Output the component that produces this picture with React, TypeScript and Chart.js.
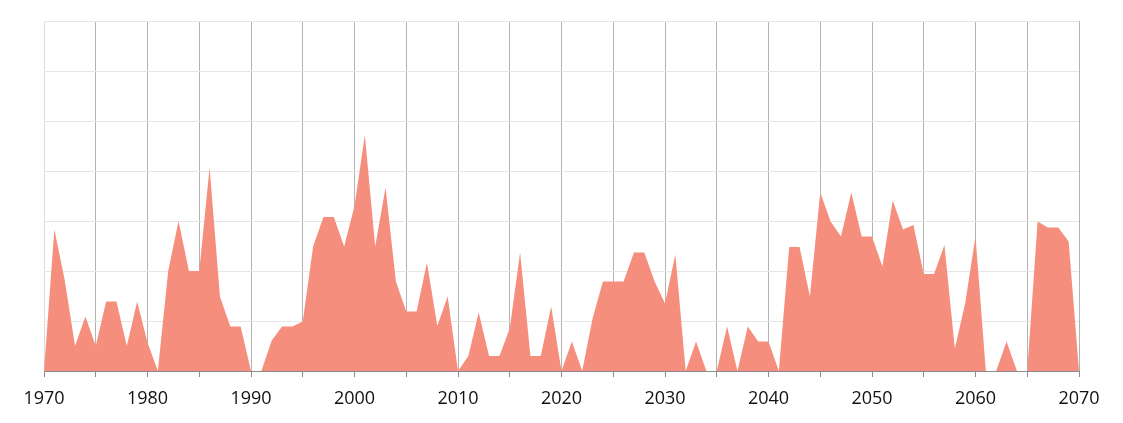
import React, { useEffect, useRef } from "react";
import { Chart, registerables } from "chart.js";

Chart.register(...registerables);

const years: number[] = Array.from({ length: 101 }, (_, i) => 1970 + i);

const values: number[] = [
  // 1970-1979
  0, 2.83, 1.82, 0.5, 1.09, 0.5, 1.39, 1.39, 0.5, 1.39,
  // 1980-1989
  0.57, 0, 2.0, 3.0, 2.0, 2.0, 4.07, 1.49, 0.89, 0.89,
  // 1990-1999
  0, 0, 0.61, 0.89, 0.89, 0.99, 2.49, 3.08, 3.08, 2.49,
  // 2000-2009
  3.3, 4.72, 2.49, 3.67, 1.79, 1.19, 1.19, 2.17, 0.9, 1.49,
  // 2010-2019
  0, 0.3, 1.17, 0.3, 0.3, 0.85, 2.37, 0.3, 0.3, 1.29,
  // 2020-2029
  0, 0.59, 0, 1.05, 1.79, 1.79, 1.79, 2.37, 2.37, 1.79,
  // 2030-2039
  1.35, 2.33, 0, 0.59, 0, 0, 0.89, 0, 0.89, 0.59,
  // 2040-2049
  0.59, 0, 2.48, 2.48, 1.49, 3.57, 2.99, 2.69, 3.57, 2.69,
  // 2050-2059
  2.69, 2.09, 3.41, 2.83, 2.92, 1.94, 1.94, 2.52, 0.45, 1.35,
  // 2060-2069
  2.69, 0, 0, 0.59, 0, 0, 2.99, 2.87, 2.87, 2.59,
  // 2070
  0,
];

const xTickLabels: number[] = [1970, 1980, 1990, 2000, 2010, 2020, 2030, 2040, 2050, 2060, 2070];

export default function App() {
  const canvasRef = useRef<HTMLCanvasElement>(null);

  useEffect(() => {
    if (!canvasRef.current) return;
    const chart = new Chart(canvasRef.current, {
      type: "line",
      data: {
        datasets: [
          {
            data: years.map((y, i) => ({ x: y, y: values[i] })),
            backgroundColor: "rgb(246,142,126)",
            borderColor: "rgb(246,142,126)",
            borderWidth: 0,
            pointRadius: 0,
            tension: 0,
            fill: "origin",
          },
        ],
      },
      options: {
        animation: false,
        responsive: false,
        maintainAspectRatio: false,
        layout: { padding: { left: 44, right: 44, top: 21, bottom: 0 } },
        plugins: { legend: { display: false }, tooltip: { enabled: false } },
        scales: {
          x: {
            type: "linear",
            min: 1970,
            max: 2070,
            afterFit: (scale: any) => {
              scale.height = 52;
            },
            ticks: {
              stepSize: 5,
              autoSkip: false,
              maxRotation: 0,
              padding: 11,
              color: "#111111",
              font: { family: "'Open Sans', sans-serif", size: 18 },
              callback: (v: any) => (xTickLabels.includes(Number(v)) ? String(v) : ""),
            },
            grid: {
              color: (ctx: any) => (ctx.tick && ctx.tick.value === 1970 ? "#dcdcdc" : "#b3b3b3"),
              tickColor: "#8c8c8c",
              tickLength: 6,
              lineWidth: 1,
            },
            border: { display: true, color: "#8c8c8c", width: 1 },
          },
          y: {
            min: 0,
            max: 7,
            ticks: { display: false, stepSize: 1 },
            grid: { color: "#e6e6e6", drawTicks: false, lineWidth: 1 },
            border: { display: false },
          },
        },
      },
    });
    return () => chart.destroy();
  }, []);

  return (
    <div style={{ position: "fixed", left: 0, top: 0, width: 1123, height: 423, background: "#fff" }}>
      <canvas ref={canvasRef} width={1123} height={423} style={{ width: 1123, height: 423 }} />
    </div>
  );
}
